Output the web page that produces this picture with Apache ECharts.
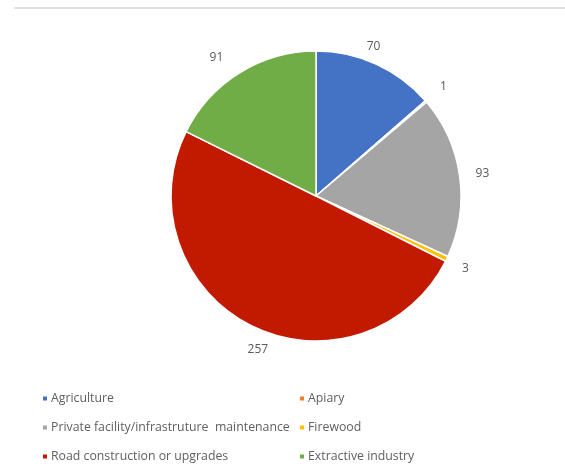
<!DOCTYPE html>
<html>
<head>
<meta charset="utf-8">
<script src="https://cdn.jsdelivr.net/npm/echarts@6/dist/echarts.min.js"></script>
<style>
  html, body { margin: 0; padding: 0; background: #fff; }
  #chart { width: 565px; height: 473px; }
  .topline { position: absolute; left: 14px; right: 0; top: 7px; height: 2px; background: #e0e0e0; }
</style>
</head>
<body>
<div class="topline"></div>
<div id="chart"></div>
<script>
// categories and values, clockwise from 12 o'clock
var categories = ['Agriculture', 'Apiary', 'Private facility/infrastruture  maintenance', 'Firewood', 'Road construction or upgrades', 'Extractive industry'];
var values = [70, 1, 93, 3, 257, 91];
var colors = ['#4472C4', '#ED7D31', '#A5A5A5', '#FFC000', '#C21A00', '#70AD47'];

var leftCol = [categories[0], categories[2], categories[4]];
var rightCol = [categories[1], categories[3], categories[5]];

var myChart = echarts.init(document.getElementById('chart'));

var legendStyle = {
    orient: 'vertical',
    top: 386,
    itemGap: 14,
    itemWidth: 6,
    itemHeight: 6,
    icon: 'rect',
    selectedMode: false,
    textStyle: { fontFamily: 'Open Sans', fontSize: 12.3, lineHeight: 15, color: '#5f5f5f', padding: [0, 0, 0, -2] }
};

var pieData = categories.map(function (name, i) {
    return { name: name, value: values[i] };
});

// small nudges so the value labels sit where the original placed them
var labelNudge = [[-12, 3], [0, 0], [0, 1], [-2, 0], [17, 3], [-11, 4]];

myChart.setOption({
    animation: false,
    color: colors,
    legend: [
        Object.assign({ left: 36, data: leftCol }, legendStyle),
        Object.assign({ left: 293, data: rightCol }, legendStyle)
    ],
    series: [{
        type: 'pie',
        center: [316, 196],
        radius: 145,
        startAngle: 90,
        clockwise: true,
        itemStyle: { borderColor: '#fff', borderWidth: 1.5 },
        label: { show: false },
        labelLine: { show: false },
        data: pieData
    }, {
        // invisible ring that only carries the value labels
        type: 'pie',
        center: [316, 196],
        radius: [150, 180],
        startAngle: 90,
        clockwise: true,
        silent: true,
        itemStyle: { color: 'rgba(0,0,0,0)' },
        label: {
            show: true,
            position: 'inside',
            formatter: '{c}',
            fontFamily: 'Open Sans',
            fontSize: 12,
            color: '#595959'
        },
        labelLayout: function (params) {
            var n = labelNudge[params.dataIndex];
            return { dx: n[0], dy: n[1] };
        },
        labelLine: { show: false },
        data: pieData
    }]
});
</script>
</body>
</html>
